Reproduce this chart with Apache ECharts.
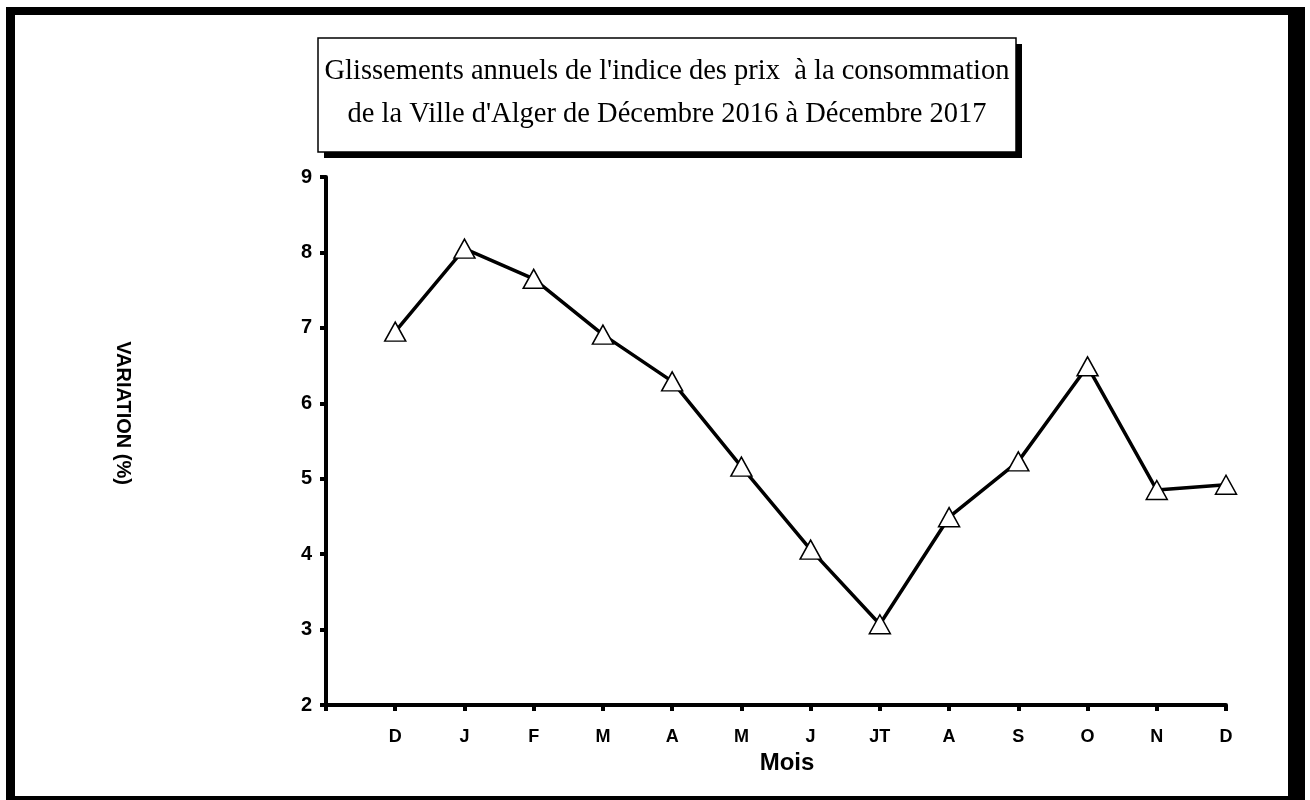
<!DOCTYPE html>
<html>
<head>
<meta charset="utf-8">
<script src="https://cdn.jsdelivr.net/npm/echarts@6/dist/echarts.min.js"></script>
<style>
html,body{margin:0;padding:0;background:#fff;}
#chart{width:1310px;height:800px;}
</style>
</head>
<body>
<div id="chart"></div>
<script>
// mois de Décembre 2016 à Décembre 2017
let months = ['D', 'J', 'F', 'M', 'A', 'M', 'J', 'JT', 'A', 'S', 'O', 'N', 'D'];
// glissements annuels (%)
let values = [6.95, 8.05, 7.65, 6.91, 6.29, 5.16, 4.06, 3.07, 4.49, 5.23, 6.49, 4.85, 4.92];
let yTicks = [2, 3, 4, 5, 6, 7, 8, 9];

let chart = echarts.init(document.getElementById('chart'));

let option = {
    backgroundColor: '#fff',
    animation: false,
    grid: {
        left: 326,
        right: 84,
        top: 177,
        bottom: 95
    },
    graphic: [
        // cadre noir extérieur
        { type: 'rect', z: -10, shape: { x: 6, y: 7, width: 1299, height: 800 }, style: { fill: '#000' } },
        { type: 'rect', z: -9, shape: { x: 15, y: 15, width: 1273, height: 781 }, style: { fill: '#fff' } },
        // boîte du titre avec ombre
        { type: 'rect', z: 1, shape: { x: 324, y: 44, width: 698, height: 114 }, style: { fill: '#000' } },
        { type: 'rect', z: 2, shape: { x: 318, y: 38, width: 698, height: 114 }, style: { fill: '#fff', stroke: '#000', lineWidth: 1.5 } },
        {
            type: 'text', z: 3, x: 667, y: 93,
            style: {
                text: "Glissements annuels de l'indice des prix  à la consommation\nde la Ville d'Alger de Décembre 2016 à Décembre 2017",
                align: 'center',
                verticalAlign: 'middle',
                font: '28.5px "Liberation Serif", "Times New Roman", serif',
                lineHeight: 43,
                fill: '#000'
            }
        },
        {
            type: 'text', z: 3, x: 123, y: 413, rotation: -Math.PI / 2,
            style: {
                text: 'VARIATION (%)',
                align: 'center',
                verticalAlign: 'middle',
                font: 'bold 20px "Liberation Sans", Arial, sans-serif',
                fill: '#000'
            }
        },
        {
            type: 'text', z: 3, x: 787, y: 763,
            style: {
                text: 'Mois',
                align: 'center',
                verticalAlign: 'middle',
                font: 'bold 24px "Liberation Sans", Arial, sans-serif',
                fill: '#000'
            }
        }
    ],
    xAxis: {
        type: 'category',
        boundaryGap: false,
        data: [''].concat(months),
        axisLine: { lineStyle: { color: '#000', width: 4 } },
        axisTick: { show: true, length: 6, lineStyle: { color: '#000', width: 4 } },
        axisLabel: {
            interval: 0,
            margin: 23,
            color: '#000',
            fontWeight: 'bold',
            fontSize: 18,
            fontFamily: '"Liberation Sans", Arial, sans-serif'
        },
        splitLine: { show: false }
    },
    yAxis: {
        type: 'value',
        min: yTicks[0],
        max: yTicks[yTicks.length - 1],
        interval: 1,
        axisLine: { show: true, lineStyle: { color: '#000', width: 4 } },
        axisTick: { show: true, length: 6, lineStyle: { color: '#000', width: 4 } },
        axisLabel: {
            margin: 14,
            color: '#000',
            fontWeight: 'bold',
            fontSize: 20,
            fontFamily: '"Liberation Sans", Arial, sans-serif'
        },
        splitLine: { show: false }
    },
    series: [{
        type: 'line',
        data: ['-'].concat(values),
        symbol: 'triangle',
        symbolSize: [21, 19],
        showAllSymbol: true,
        lineStyle: { color: '#000', width: 3.5 },
        itemStyle: { color: '#fff', borderColor: '#000', borderWidth: 1.5 },
        z: 5
    }]
};
chart.setOption(option);
</script>
</body>
</html>
